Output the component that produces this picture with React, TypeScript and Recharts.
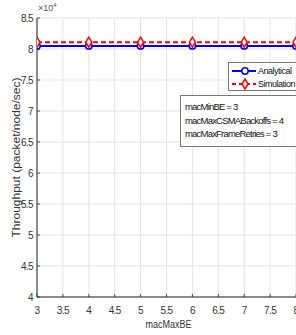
import { CartesianGrid, Label, Line, LineChart, XAxis, YAxis } from 'recharts';

const macMaxBE = [3, 4, 5, 6, 7, 8];
const analytical = [80500, 80500, 80500, 80500, 80500, 80500];
const simulation = [81100, 81100, 81100, 81100, 81100, 81100];
const xTicks = [3, 3.5, 4, 4.5, 5, 5.5, 6, 6.5, 7, 7.5, 8];
const yTicks = [40000, 45000, 50000, 55000, 60000, 65000, 70000, 75000, 80000, 85000];
const params = ['macMinBE = 3', 'macMaxCSMABackoffs = 4', 'macMaxFrameRetries = 3'];

const chartData = macMaxBE.map((x, i) => ({ x, analytical: analytical[i], simulation: simulation[i] }));

const font = 'Arial, "Liberation Sans", sans-serif';
const axisColor = '#262626';
const textColor = '#333';

const Diamond = (props: any) => {
  const { cx, cy } = props;
  if (cx == null || cy == null) return null;
  return (
    <path
      d={`M${cx},${cy - 5} L${cx + 3},${cy} L${cx},${cy + 5} L${cx - 3},${cy} Z`}
      fill="white"
      stroke="#ff0000"
      strokeWidth={1.5}
    />
  );
};

const XTick = (props: any) => {
  const { x, y, payload } = props;
  return (
    <g>
      <line x1={x} x2={x} y1={y} y2={y - 3} stroke={axisColor} strokeWidth={0.8} />
      <text x={x} y={y + 17} textAnchor="middle" fontSize={10} letterSpacing={-0.6} fill={textColor} fontFamily={font}>
        {payload.value}
      </text>
    </g>
  );
};

const YTick = (props: any) => {
  const { x, y, payload } = props;
  return (
    <g>
      <line x1={x} x2={x + 3} y1={y} y2={y} stroke={axisColor} strokeWidth={0.8} />
      <text x={x - 4} y={y + 3.5} textAnchor="end" fontSize={10} letterSpacing={-0.6} fill={textColor} fontFamily={font}>
        {String(payload.value / 10000)}
      </text>
    </g>
  );
};

const LegendBox = () => (
  <div
    style={{
      position: 'absolute',
      left: 228,
      top: 62,
      border: '1px solid #777',
      background: 'white',
      width: 72,
      height: 29,
      fontFamily: font,
      fontSize: 9,
      letterSpacing: -0.5,
      color: '#111',
      boxSizing: 'border-box',
      paddingLeft: 2,
    }}
  >
    <div style={{ display: 'flex', alignItems: 'center', height: 13, marginTop: 1 }}>
      <svg width={27} height={10}>
        <line x1={1} y1={5} x2={25} y2={5} stroke="#0000ff" strokeWidth={2} />
        <circle cx={14} cy={5} r={3.2} fill="white" stroke="#0000ff" strokeWidth={1.5} />
      </svg>
      <span>Analytical</span>
    </div>
    <div style={{ display: 'flex', alignItems: 'center', height: 13 }}>
      <svg width={27} height={12}>
        <line x1={1} y1={6} x2={25} y2={6} stroke="#ff0000" strokeWidth={2} strokeDasharray="4 3" />
        <path d="M14,1 L17,6 L14,11 L11,6 Z" fill="white" stroke="#ff0000" strokeWidth={1.5} />
      </svg>
      <span>Simulation</span>
    </div>
  </div>
);

export default function App() {
  return (
    <div style={{ position: 'absolute', left: 0, top: 0, width: 296, height: 335, overflow: 'hidden', background: 'white' }}>
      <LineChart width={300} height={335} data={chartData} margin={{ top: 18, right: 4, bottom: 0, left: 0 }}>
        <CartesianGrid stroke="#e3e3e3" strokeWidth={1} />
        <XAxis
          dataKey="x"
          type="number"
          domain={[3, 8]}
          ticks={xTicks}
          allowDataOverflow
          height={38}
          tickLine={false}
          tickSize={0}
          tickMargin={0}
          stroke={axisColor}
          tick={<XTick />}
        >
          <Label
            content={(p: any) => {
              const vb = p.viewBox;
              return (
                <text
                  x={vb.x + vb.width / 2 + 2}
                  y={vb.y + 31}
                  textAnchor="middle"
                  fontSize={10}
                  textLength={46}
                  lengthAdjust="spacingAndGlyphs"
                  fill={textColor}
                  fontFamily={font}
                >
                  macMaxBE
                </text>
              );
            }}
          />
        </XAxis>
        <XAxis xAxisId="top" orientation="top" dataKey="x" type="number" domain={[3, 8]} height={0} tick={false} tickLine={false} stroke={axisColor} />
        <YAxis
          type="number"
          domain={[40000, 85000]}
          ticks={yTicks}
          width={37}
          tickLine={false}
          tickSize={0}
          tickMargin={0}
          stroke={axisColor}
          tick={<YTick />}
        >
          <Label
            content={(p: any) => {
              const vb = p.viewBox;
              const cy = vb.y + vb.height / 2;
              return (
                <text
                  x={20}
                  y={cy}
                  transform={`rotate(-90, 20, ${cy})`}
                  textAnchor="middle"
                  fontSize={11}
                  textLength={160}
                  lengthAdjust="spacingAndGlyphs"
                  fill={textColor}
                  fontFamily={font}
                >
                  Throughput (packet/node/sec)
                </text>
              );
            }}
          />
        </YAxis>
        <YAxis yAxisId="right" orientation="right" domain={[40000, 85000]} width={0} tick={false} tickLine={false} stroke={axisColor} />
        <Line
          dataKey="analytical"
          stroke="#0000ff"
          strokeWidth={2}
          dot={{ r: 3.2, fill: 'white', stroke: '#0000ff', strokeWidth: 1.5 }}
          isAnimationActive={false}
        />
        <Line
          dataKey="simulation"
          stroke="#ff0000"
          strokeWidth={2}
          strokeDasharray="5 3"
          dot={<Diamond />}
          isAnimationActive={false}
        />
      </LineChart>
      <LegendBox />
      <div style={{ position: 'absolute', left: 38, top: 2, fontFamily: font, fontSize: 9, color: '#555' }}>
        ×10<sup style={{ fontSize: 6 }}>4</sup>
      </div>
      <div
        style={{
          position: 'absolute',
          left: 180,
          top: 95,
          width: 120,
          height: 52,
          border: '1px solid #777',
          background: 'white',
          boxSizing: 'border-box',
          padding: '4px 0 0 4px',
          fontFamily: font,
          fontSize: 9.5,
          letterSpacing: -0.8,
          lineHeight: '13.5px',
          whiteSpace: 'nowrap',
          color: '#111',
        }}
      >
        {params.map((p) => (
          <div key={p}>{p}</div>
        ))}
      </div>
    </div>
  );
}
